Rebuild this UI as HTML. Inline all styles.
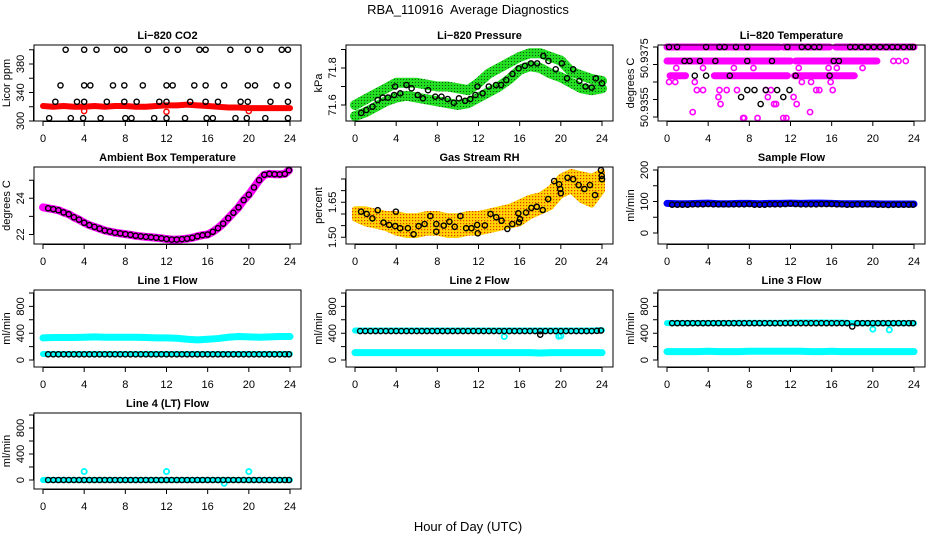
<!DOCTYPE html>
<html><head><meta charset="utf-8">
<style>
html,body{margin:0;padding:0;background:#fff;}
svg{display:block;font-family:"Liberation Sans",Arial,sans-serif;}
text{white-space:pre;}
</style></head>
<body>
<svg id="chart" width="936" height="540" viewBox="0 0 936 540" xmlns="http://www.w3.org/2000/svg">
<defs>
<pattern id="pg" width="3" height="3" patternUnits="userSpaceOnUse"><rect width="3" height="3" fill="#22dd22"/><rect x="1" y="1" width="1" height="1" fill="#115511"/></pattern>
<pattern id="po" width="3" height="3" patternUnits="userSpaceOnUse"><rect width="3" height="3" fill="#ffd400"/><rect x="1" y="1" width="1.2" height="1.2" fill="#e23a00"/></pattern>
</defs>
<text x="468" y="14" text-anchor="middle" font-size="13">RBA_110916  Average Diagnostics</text>
<text x="468" y="531" text-anchor="middle" font-size="13">Hour of Day (UTC)</text>
</svg>
<script>
const hours = [0,1,2,3,4,5,6,7,8,9,10,11,12,13,14,15,16,17,18,19,20,21,22,23,24];
const halfHours = [0.5,1,1.5,2,2.5,3,3.5,4,4.5,5,5.5,6,6.5,7,7.5,8,8.5,9,9.5,10,10.5,11,11.5,12,12.5,13,13.5,14,14.5,15,15.5,16,16.5,17,17.5,18,18.5,19,19.5,20,20.5,21,21.5,22,22.5,23,23.5,23.9];
const xTicks = [0,4,8,12,16,20,24];

const co2Band = [321,320,321,320,320,321,320,321,321,320,320,321,322,322,323,322,321,320,319,319,318,318,318,318,318];
const co2OutH = [4,12,20];
const co2OutV = [314,313,314];
const co2BlkH = [2.2,4.0,5.2,7.2,7.9,10.2,12.0,13.1,15.2,15.8,18.2,19.9,21.1,23.2,23.8,
  1.7,4.0,4.6,6.8,7.9,9.7,12.0,12.6,14.7,15.8,17.6,19.9,20.6,22.7,23.8,
  1.2,3.3,4.0,6.2,7.9,9.1,11.3,12.0,14.3,15.8,17.0,19.2,19.9,22.1,23.8,
  0.6,2.7,3.9,5.6,8.0,8.6,10.8,12.0,13.8,15.9,16.5,18.7,19.8,21.6,23.8];
const co2BlkV = [400,400,400,400,400,400,400,400,400,400,400,400,400,400,400,
  350,350,350,350,350,350,350,350,350,350,350,350,350,350,350,
  327,327,327,327,327,327,327,327,327,327,327,327,327,327,327,
  304,304,304,304,304,304,304,304,304,304,304,304,304,304,304];

const presUpper = [71.60,71.63,71.66,71.69,71.72,71.72,71.72,71.71,71.70,71.70,71.69,71.68,71.72,71.77,71.80,71.83,71.86,71.88,71.88,71.86,71.84,71.78,71.76,71.74,71.73];
const presLower = [71.54,71.56,71.59,71.62,71.64,71.65,71.64,71.63,71.62,71.61,71.60,71.61,71.64,71.67,71.70,71.74,71.79,71.81,71.80,71.77,71.75,71.72,71.69,71.68,71.69];
const presBlkH = [0.6,1.1,1.7,2.2,2.7,3.2,3.8,3.9,4.4,5.0,5.5,6.1,6.6,7.1,7.8,8.4,9.0,9.6,10.1,10.7,11.2,11.7,11.9,12.4,13.0,13.7,14.2,14.7,15.3,15.9,16.5,17.1,17.7,18.3,18.8,19.5,20.1,20.6,21.2,21.8,22.4,23.0,23.4,24.0];
const presBlkV = [71.557,71.573,71.591,71.627,71.64,71.64,71.654,71.70,71.663,71.708,71.69,71.654,71.636,71.68,71.645,71.645,71.632,71.612,71.636,71.623,71.632,71.654,71.70,71.663,71.70,71.708,71.708,71.735,71.768,71.798,71.812,71.825,71.825,71.865,71.838,71.793,71.825,71.744,71.793,71.73,71.70,71.694,71.744,71.717];

const tRunLevel = [50.9375,50.9375,50.9375,50.9371,50.9371,50.93668,50.93668,50.93668];
const tRunStart = [0,11.3,16.4,0,12.5,0.3,4.6,12.4];
const tRunEnd   = [10.9,15.8,24,12.0,20.4,1.8,11.7,18.2];
const tMagH = [0.9,3.5,6.5,8.4,12.8,15.7,16.5,19.0, 0.2,0.8,2.7,13.1,14.0,15.9, 2.9,3.5,5.1,5.8,6.8,9.6,10.1,14.5,14.8,16.1, 5.0,9.8,12.3, 5.2,10.4,10.6,12.6, 2.5,13.9, 7.4,7.5,8.8,11.3,11.6, 22.0,22.5,23.2];
const tMagV = [50.9369,50.9369,50.9369,50.9369,50.9369,50.9369,50.9369,50.9369, 50.9365,50.9365,50.9365,50.9365,50.9365,50.9365, 50.93627,50.93627,50.93627,50.93627,50.93627,50.93627,50.93627,50.93627,50.93627,50.93627, 50.93607,50.93607,50.93607, 50.93587,50.93587,50.93587,50.93587, 50.93564,50.93564, 50.93547,50.93547,50.93547,50.93547,50.93547, 50.9371,50.9371,50.9371];
const tBlkH = [0.2,0.98,3.8,5.1,5.6,6.7,7.8,11.7,13.1,13.7,14.3,14.8,17.8,18.3,18.9,19.5,20.1,20.7,21.3,21.9,22.4,23.0,23.6,23.9,
  1.7,2.2,3.2,4.7,7.8,10.2,16.2,16.7, 2.7,3.8,6.1,12.5,15.8, 7.8,8.5,9.6,10.7,11.9, 7.2,11.3, 9.1];
const tBlkV = [50.9375,50.9375,50.9375,50.9375,50.9375,50.9375,50.9375,50.9375,50.9375,50.9375,50.9375,50.9375,50.9375,50.9375,50.9375,50.9375,50.9375,50.9375,50.9375,50.9375,50.9375,50.9375,50.9375,50.9375,
  50.9371,50.9371,50.9371,50.9371,50.9371,50.9371,50.9371,50.9371, 50.93668,50.93668,50.93668,50.93668,50.93668, 50.93627,50.93627,50.93627,50.93627,50.93627, 50.93607,50.93607, 50.93587];

const ambVals = [23.45,23.40,23.34,23.22,23.12,22.95,22.82,22.65,22.52,22.42,22.32,22.22,22.16,22.10,22.06,22.02,21.98,21.93,21.90,21.87,21.85,21.82,21.79,21.75,21.72,21.72,21.74,21.77,21.82,21.90,21.96,22.00,22.15,22.35,22.60,22.90,23.20,23.50,23.90,24.20,24.60,25.00,25.30,25.35,25.33,25.32,25.35,25.55];
const ambBandStart = [23.5];

const rhUpper = [1.62,1.62,1.61,1.60,1.60,1.59,1.59,1.60,1.60,1.59,1.59,1.60,1.60,1.61,1.62,1.63,1.65,1.67,1.68,1.71,1.76,1.78,1.77,1.76,1.78];
const rhLower = [1.58,1.56,1.55,1.54,1.52,1.51,1.51,1.52,1.52,1.51,1.51,1.52,1.52,1.53,1.54,1.55,1.56,1.59,1.61,1.63,1.68,1.70,1.66,1.64,1.70];
const rhBlkH = [0.59,1.14,1.69,2.21,2.77,3.32,3.90,3.97,4.39,5.14,5.69,6.18,6.76,7.32,7.90,7.90,8.62,9.17,9.69,10.24,10.80,11.32,11.87,11.93,12.62,13.17,13.72,14.24,14.80,15.28,15.87,15.93,16.03,16.62,17.14,17.66,18.24,18.77,19.35,19.84,19.94,20.00,20.65,21.20,21.73,22.28,22.83,23.32,23.90,23.97,24.0];
const rhBlkV = [1.610,1.600,1.581,1.616,1.563,1.553,1.548,1.610,1.539,1.539,1.513,1.548,1.557,1.591,1.557,1.524,1.550,1.567,1.545,1.591,1.539,1.539,1.553,1.517,1.551,1.600,1.586,1.571,1.536,1.557,1.603,1.564,1.578,1.606,1.626,1.631,1.617,1.664,1.741,1.727,1.707,1.689,1.755,1.749,1.724,1.707,1.724,1.681,1.788,1.763,1.749];

const sampleBand = [94,93,93,94,95,93,93,94,94,93,94,94,95,94,95,95,94,93,93,93,93,92,92,92,92];
const sampleBlk = [90,90,90,90,91,91,91,92,91,91,91,91,91,91,91,92,90,90,90,91,91,91,92,93,92,91,91,91,91,92,92,92,91,91,90,90,91,91,91,91,90,90,89,90,90,90,90,90];

const l1Upper = [330,335,335,335,340,345,340,340,340,340,335,330,330,325,310,300,310,320,340,350,345,340,345,350,350];
const l1Lower = [90,90,90,90,90,90,90,90,90,90,90,90,90,90,90,90,90,90,90,90,90,90,90,90,90];
const l1Blk = [85,85,85,85,85,85,85,85,85,85,85,85,85,85,85,85,85,85,85,85,85,85,85,85,85,85,85,85,85,85,85,85,85,85,85,85,85,85,85,85,85,85,85,85,85,85,85,85];
const l2Upper = [440,440,440,440,440,440,440,440,440,440,440,440,440,440,440,440,440,440,440,440,440,440,440,440,445];
const l2Lower = [110,110,110,110,110,110,110,110,110,110,110,110,110,110,110,110,110,110,105,110,110,110,110,110,110];
const l2Blk = [432,432,432,432,432,432,432,432,432,432,432,432,432,432,432,432,432,432,432,432,432,432,432,432,432,432,432,432,432,432,432,432,432,432,432,432,432,432,432,432,432,432,432,432,432,432,435,440];
const l2OutH = [14.5,19.8,20.0,18.0];
const l2OutV = [350,355,360,378];
const l3Upper = [550,552,552,552,552,552,552,555,555,555,555,555,558,560,560,560,558,558,550,550,550,550,550,550,550];
const l3Lower = [125,125,125,125,130,125,125,125,130,130,130,130,130,130,125,125,130,125,125,125,125,125,125,125,125];
const l3Blk = [550,550,550,550,550,550,550,550,550,550,550,550,550,550,550,550,550,550,550,550,550,550,550,550,550,550,550,550,550,550,550,550,550,550,550,500,550,550,550,550,550,550,550,550,550,550,550,550];
const l3OutH = [20.0,21.6];
const l3OutV = [460,450];
const l4Band = [0,0,0,0,0,0,0,0,0,0,0,0,0,0,0,0,0,0,0,0,0,0,0,0,0];
const l4Blk = [0,0,0,0,0,0,0,0,0,0,0,0,0,0,0,0,0,0,0,0,0,0,0,0,0,0,0,0,0,0,0,0,0,0,0,0,0,0,0,0,0,0,0,0,0,0,0,0];
const l4OutH = [4,12,20,17.6];
const l4OutV = [130,130,130,-50];

const NS = "http://www.w3.org/2000/svg";
const svg = document.getElementById("chart");
function mk(tag, parent) { const e = document.createElementNS(NS, tag); (parent || svg).appendChild(e); return e; }

const colLeft = [34, 346, 658];
const rowTop = [45, 167, 290, 413];
const rowBot = [121, 244, 367, 489];
const boxW = 267;

function panel(name, col, row, title, ytitle, vA, pA, vB, pB, yTicks, yLabels) {
  const g = mk("g");
  
  
  const L = colLeft[col], T = rowTop[row], B = rowBot[row];
  const xs = h => L + 9 + h * (247 / 24);
  const ys = v => pA + (v - vA) * (pB - pA) / (vB - vA);
  const plot = mk("g", g);
  
  
  const box = mk("rect", g);
  
  
  box.setAttribute("x", L); box.setAttribute("y", T); box.setAttribute("width", boxW); box.setAttribute("height", B - T);
  box.setAttribute("fill", "none"); box.setAttribute("stroke", "#000"); box.setAttribute("stroke-width", "1");
  const t = mk("text", g);
  
  
  t.setAttribute("x", L + boxW / 2); t.setAttribute("y", T - 6); t.setAttribute("text-anchor", "middle");
  t.setAttribute("font-size", "11"); t.setAttribute("font-weight", "bold"); t.textContent = title;
  const yt = mk("text", g);
  
  
  const ym = (T + B) / 2;
  yt.setAttribute("transform", "translate(" + (L - 24) + "," + ym + ") rotate(-90)");
  yt.setAttribute("text-anchor", "middle"); yt.setAttribute("font-size", "11"); yt.textContent = ytitle;
  const xa = mk("g", g);
  
  
  let d = "M" + xs(0) + "," + (B + 0.5) + "H" + xs(24);
  xTicks.forEach(h => { d += "M" + xs(h) + "," + B + "v5"; });
  const xp = mk("path", xa); xp.setAttribute("d", d); xp.setAttribute("stroke", "#000"); xp.setAttribute("fill", "none");
  xTicks.forEach(h => {
    const tl = mk("text", xa);
    
    
    tl.setAttribute("x", xs(h)); tl.setAttribute("y", B + 21); tl.setAttribute("text-anchor", "middle");
    tl.setAttribute("font-size", "11"); tl.textContent = String(h);
  });
  const ya = mk("g", g);
  
  
  let dy = "M" + (L - 0.5) + "," + ys(yTicks[0]) + "V" + ys(yTicks[yTicks.length - 1]);
  yTicks.forEach(v => { dy += "M" + L + "," + ys(v) + "h-5"; });
  const yp = mk("path", ya); yp.setAttribute("d", dy); yp.setAttribute("stroke", "#000"); yp.setAttribute("fill", "none");
  yLabels.forEach(lb => {
    const tl = mk("text", ya);
    
    
    tl.setAttribute("transform", "translate(" + (L - 10) + "," + ys(lb[0]) + ") rotate(-90)");
    tl.setAttribute("text-anchor", "middle"); tl.setAttribute("font-size", "11"); tl.textContent = lb[1];
  });
  return { xs, ys, g: plot };
}

function band(p, hs, vs, color, width, name) {
  const pl = mk("polyline", p.g);
  
  
  pl.setAttribute("points", hs.map((h, i) => p.xs(h) + "," + p.ys(vs[i])).join(" "));
  pl.setAttribute("fill", "none"); pl.setAttribute("stroke", color); pl.setAttribute("stroke-width", width);
  pl.setAttribute("stroke-linejoin", "round"); pl.setAttribute("stroke-linecap", "round");
}
function area(p, hs, up, lo, fill, name) {
  const pts = hs.map((h, i) => p.xs(h) + "," + p.ys(up[i])).concat(hs.slice().reverse().map((h, i) => p.xs(h) + "," + p.ys(lo[hs.length - 1 - i])));
  const pg = mk("polygon", p.g);
  
  
  pg.setAttribute("points", pts.join(" "));
  pg.setAttribute("fill", fill); pg.setAttribute("stroke", fill); pg.setAttribute("stroke-width", "6"); pg.setAttribute("stroke-linejoin", "round");
}
function dots(p, hs, vs, color, name, r, sw) {
  hs.forEach((h, i) => {
    const c = mk("circle", p.g);
    
    
    c.setAttribute("cx", p.xs(h)); c.setAttribute("cy", p.ys(vs[i]));
    c.setAttribute("r", r || 2.6); c.setAttribute("fill", "none");
    c.setAttribute("stroke", color); c.setAttribute("stroke-width", sw || 1.4);
  });
}

const pCO2 = panel("co2", 0, 0, "Li\u2212820 CO2", "Licor ppm", 300, 121, 380, 64, [300,320,340,360,380,400], [[300,"300"],[340,"340"],[380,"380"]]);
band(pCO2, hours, co2Band, "#ff0000", 6, "co2-red-series");
dots(pCO2, co2OutH, co2OutV, "#ff0000", "co2-red-point");
dots(pCO2, co2BlkH, co2BlkV, "#000", "co2-black-point");

const pPres = panel("pressure", 1, 0, "Li\u2212820 Pressure", "kPa", 71.6, 105, 71.8, 68, [71.6,71.7,71.8,71.9], [[71.6,"71.6"],[71.8,"71.8"]]);
band(pPres, hours, presUpper, "url(#pg)", 10, "pressure-green-upper");
band(pPres, hours, presLower, "url(#pg)", 10, "pressure-green-lower");
dots(pPres, presBlkH, presBlkV, "#000", "pressure-black-point");

const pTemp = panel("li820-temperature", 2, 0, "Li\u2212820 Temperature", "degrees C", 50.9375, 47, 50.9355, 117, [50.9375,50.937,50.9365,50.936,50.9355], [[50.93718,"50.9375"],[50.93578,"50.9355"]]);
tRunLevel.forEach((lv, i) => {
  band(pTemp, [tRunStart[i], tRunEnd[i]], [lv, lv], "#ff00ff", 7, "temperature-magenta-run");
});
dots(pTemp, tMagH, tMagV, "#ff00ff", "temperature-magenta-point", 2.6, 1.6);
dots(pTemp, tBlkH, tBlkV, "#000", "temperature-black-point");

const pAmb = panel("ambient-temperature", 0, 1, "Ambient Box Temperature", "degrees C", 24, 198.3, 22, 234.5, [22,23,24,25], [[22,"22"],[24,"24"]]);
band(pAmb, [0].concat(halfHours), ambBandStart.concat(ambVals), "#ff00ff", 8, "ambient-magenta-series");
dots(pAmb, halfHours, ambVals, "#000", "ambient-black-point");

const pRH = panel("gas-stream-rh", 1, 1, "Gas Stream RH", "percent", 1.50, 237.3, 1.65, 202.3, [1.50,1.55,1.60,1.65,1.70,1.75], [[1.50,"1.50"],[1.65,"1.65"]]);
area(pRH, hours, rhUpper, rhLower, "url(#po)", "rh-orange-band");
dots(pRH, rhBlkH, rhBlkV, "#000", "rh-black-point");

const pSamp = panel("sample-flow", 2, 1, "Sample Flow", "ml/min", 0, 233, 200, 170, [0,50,100,150,200], [[0,"0"],[100,"100"],[200,"200"]]);
band(pSamp, hours, sampleBand, "#0000ff", 7, "sample-blue-series");
dots(pSamp, halfHours, sampleBlk, "#000", "sample-black-point");

const flowTicks = [0,200,400,600,800,1000];
const flowLabels = [[0,"0"],[400,"400"],[800,"800"]];
const pL1 = panel("line1-flow", 0, 2, "Line 1 Flow", "ml/min", 0, 360, 1000, 293, flowTicks, flowLabels);
band(pL1, hours, l1Upper, "#00ffff", 7, "line1-cyan-upper");
band(pL1, hours, l1Lower, "#00ffff", 6, "line1-cyan-lower");
dots(pL1, halfHours, l1Blk, "#000", "line1-black-point");
const pL2 = panel("line2-flow", 1, 2, "Line 2 Flow", "ml/min", 0, 360, 1000, 293, flowTicks, flowLabels);
band(pL2, hours, l2Upper, "#00ffff", 6, "line2-cyan-upper");
band(pL2, hours, l2Lower, "#00ffff", 7, "line2-cyan-lower");
dots(pL2, l2OutH.slice(0, 3), l2OutV.slice(0, 3), "#00ffff", "line2-cyan-point", 2.6, 1.8);
dots(pL2, halfHours, l2Blk, "#000", "line2-black-point");
dots(pL2, l2OutH.slice(3), l2OutV.slice(3), "#000", "line2-black-outlier");
const pL3 = panel("line3-flow", 2, 2, "Line 3 Flow", "ml/min", 0, 360, 1000, 293, flowTicks, flowLabels);
band(pL3, hours, l3Upper, "#00ffff", 6, "line3-cyan-upper");
band(pL3, hours, l3Lower, "#00ffff", 7, "line3-cyan-lower");
dots(pL3, l3OutH, l3OutV, "#00ffff", "line3-cyan-point", 2.6, 1.8);
dots(pL3, halfHours, l3Blk, "#000", "line3-black-point");
const pL4 = panel("line4-flow", 0, 3, "Line 4 (LT) Flow", "ml/min", 0, 480, 1000, 415, flowTicks, flowLabels);
band(pL4, hours, l4Band, "#00ffff", 6, "line4-cyan-series");
dots(pL4, l4OutH, l4OutV, "#00ffff", "line4-cyan-point", 2.6, 1.8);
dots(pL4, halfHours, l4Blk, "#000", "line4-black-point");
</script>
</body></html>
